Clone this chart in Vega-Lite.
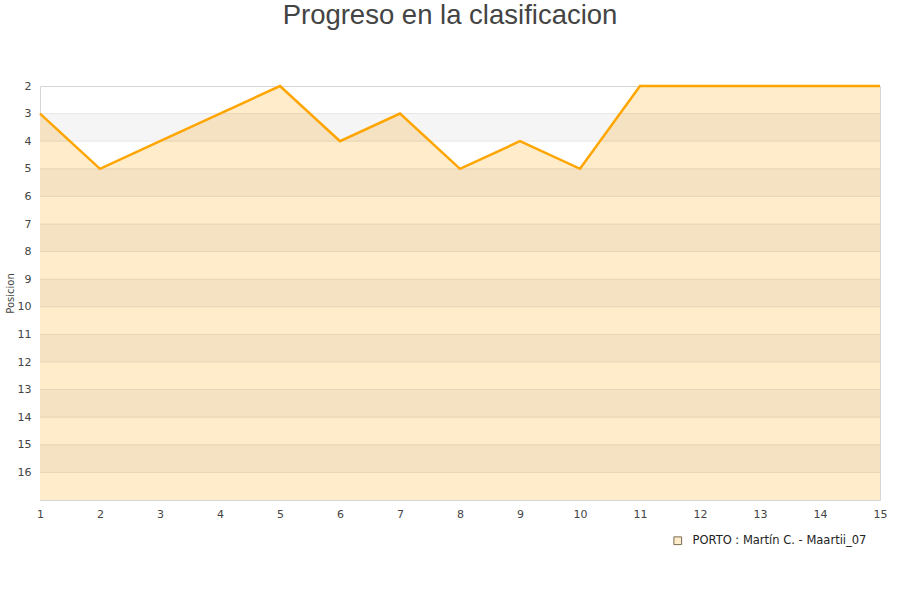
{
  "$schema": "https://vega.github.io/schema/vega-lite/v6.json",
  "autosize": {"type": "none"},
  "width": 840,
  "height": 414,
  "padding": {"left": 40, "top": 86, "right": 20, "bottom": 100},
  "background": "white",
  "config": {
    "view": {"stroke": "#d6d6d6", "strokeWidth": 1},
    "font": "DejaVu Sans",
    "axisY": {
      "grid": false, "ticks": false, "domain": false,
      "labelFlush": false, "labelOverlap": false, "labelPadding": 9, "labelFontSize": 11,
      "labelColor": "#444444", "format": "d",
      "titleFontSize": 10, "titleFontWeight": "normal", "titleColor": "#444444",
      "titleX": -30, "titleY": 207, "titleAngle": -90,
      "titleAlign": "center", "titleBaseline": "middle"
    },
    "axisX": {
      "grid": false, "ticks": false, "domain": false,
      "labelFlush": false, "labelOverlap": false, "labelPadding": 8, "labelFontSize": 11,
      "labelColor": "#444444", "format": "d"
    }
  },
  "title": {
    "text": "Progreso en la clasificacion",
    "font": "Liberation Sans",
    "fontSize": 27.5,
    "fontWeight": "normal",
    "color": "#444444",
    "baseline": "bottom",
    "frame": "group",
    "offset": 23,
    "anchor": "middle",
    "dx": -10
  },
  "datasets": {
    "serie": [
      {"jornada": 1, "posicion": 3, "equipo": "PORTO : Martín C. - Maartii_07"},
      {"jornada": 2, "posicion": 5, "equipo": "PORTO : Martín C. - Maartii_07"},
      {"jornada": 3, "posicion": 4, "equipo": "PORTO : Martín C. - Maartii_07"},
      {"jornada": 4, "posicion": 3, "equipo": "PORTO : Martín C. - Maartii_07"},
      {"jornada": 5, "posicion": 2, "equipo": "PORTO : Martín C. - Maartii_07"},
      {"jornada": 6, "posicion": 4, "equipo": "PORTO : Martín C. - Maartii_07"},
      {"jornada": 7, "posicion": 3, "equipo": "PORTO : Martín C. - Maartii_07"},
      {"jornada": 8, "posicion": 5, "equipo": "PORTO : Martín C. - Maartii_07"},
      {"jornada": 9, "posicion": 4, "equipo": "PORTO : Martín C. - Maartii_07"},
      {"jornada": 10, "posicion": 5, "equipo": "PORTO : Martín C. - Maartii_07"},
      {"jornada": 11, "posicion": 2, "equipo": "PORTO : Martín C. - Maartii_07"},
      {"jornada": 12, "posicion": 2, "equipo": "PORTO : Martín C. - Maartii_07"},
      {"jornada": 13, "posicion": 2, "equipo": "PORTO : Martín C. - Maartii_07"},
      {"jornada": 14, "posicion": 2, "equipo": "PORTO : Martín C. - Maartii_07"},
      {"jornada": 15, "posicion": 2, "equipo": "PORTO : Martín C. - Maartii_07"}
    ],
    "bandas": [
      {"desde": 3, "hasta": 4},
      {"desde": 5, "hasta": 6},
      {"desde": 7, "hasta": 8},
      {"desde": 9, "hasta": 10},
      {"desde": 11, "hasta": 12},
      {"desde": 13, "hasta": 14},
      {"desde": 15, "hasta": 16}
    ],
    "rejilla": [
      {"p": 3}, {"p": 4}, {"p": 5}, {"p": 6}, {"p": 7}, {"p": 8}, {"p": 9},
      {"p": 10}, {"p": 11}, {"p": 12}, {"p": 13}, {"p": 14}, {"p": 15}, {"p": 16}
    ]
  },
  "layer": [
    {
      "data": {"name": "serie"},
      "mark": {"type": "area", "opacity": 1},
      "encoding": {
        "x": {
          "field": "jornada", "type": "quantitative",
          "scale": {"domain": [1, 15], "nice": false, "zero": false},
          "axis": {"title": null, "values": [1,2,3,4,5,6,7,8,9,10,11,12,13,14,15]}
        },
        "y": {
          "field": "posicion", "type": "quantitative",
          "scale": {"domain": [2, 17], "reverse": true, "nice": false, "zero": false},
          "axis": {"title": "Posicion", "values": [2,3,4,5,6,7,8,9,10,11,12,13,14,15,16]}
        },
        "y2": {"datum": 17},
        "color": {
          "field": "equipo", "type": "nominal",
          "scale": {"range": ["#feecca"]},
          "legend": {
            "title": null, "orient": "none", "legendX": 632, "legendY": 449,
            "symbolType": "square", "symbolSize": 60, "labelOffset": 9,
            "symbolStrokeColor": "#7a6a50", "symbolStrokeWidth": 1,
            "labelFontSize": 11.5, "labelColor": "#222222", "labelLimit": 400
          }
        }
      }
    },
    {
      "data": {"name": "bandas"},
      "mark": {"type": "rect", "color": "black", "opacity": 0.038},
      "encoding": {
        "y": {"field": "desde", "type": "quantitative", "axis": {"title": "Posicion", "values": [2,3,4,5,6,7,8,9,10,11,12,13,14,15,16]}},
        "y2": {"field": "hasta"}
      }
    },
    {
      "data": {"name": "rejilla"},
      "mark": {"type": "rule", "color": "black", "opacity": 0.08, "strokeWidth": 1},
      "encoding": {
        "y": {"field": "p", "type": "quantitative", "axis": {"title": "Posicion", "values": [2,3,4,5,6,7,8,9,10,11,12,13,14,15,16]}}
      }
    },
    {
      "data": {"name": "serie"},
      "mark": {"type": "line", "color": "#ffa500", "strokeWidth": 2.5},
      "encoding": {
        "x": {"field": "jornada", "type": "quantitative", "axis": {"title": null, "values": [1,2,3,4,5,6,7,8,9,10,11,12,13,14,15]}},
        "y": {"field": "posicion", "type": "quantitative", "axis": {"title": "Posicion", "values": [2,3,4,5,6,7,8,9,10,11,12,13,14,15,16]}}
      }
    }
  ]
}
